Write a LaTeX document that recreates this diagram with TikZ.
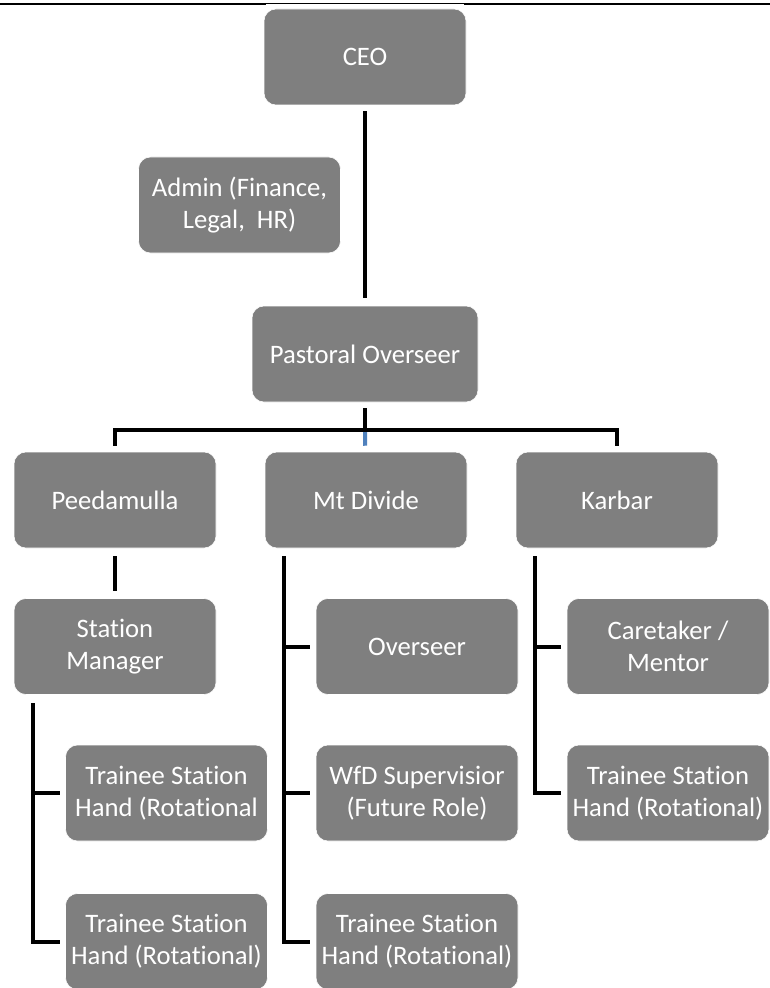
\documentclass[tikz,border=0pt]{standalone}
\usepackage{fontspec}
\setmainfont{Carlito}[Ligatures=NoCommon]
\usetikzlibrary{calc}

\definecolor{boxgray}{RGB}{127,127,127}
\definecolor{linkblue}{RGB}{79,129,189}

\begin{document}
\begin{tikzpicture}[x=0.75pt,y=0.75pt,yscale=-1,xscale=1,
  orgbox/.style={draw=white, line width=0.4pt, fill=boxgray, rounded corners=9pt,
    minimum width=151.5pt, minimum height=72pt, inner sep=1pt, align=center,
    text=white, font=\fontsize{20}{24}\selectfont},
  link/.style={draw=black, line width=3pt},
  ]
\useasboundingbox (0,0) rectangle (770,988);

%Straight Lines (page rule)
\draw [line width=2.2pt] (0,4) -- (770,4) ;
\draw [white, line width=0.9pt] (266,5.1) -- (464,5.1) ;

%Shape: Rounded Rect (top)
\node (ceo) at (365,57) [orgbox] {CEO};
\node (admin) at (239.5,205) [orgbox] {Admin (Finance,\\Legal,\ \ HR)};
\node (pastoral) at (365,354) [orgbox, minimum width=169.5pt] {Pastoral Overseer};

%Shape: Rounded Rect (stations)
\node (peed) at (115,500) [orgbox] {Peedamulla};
\node (mt) at (366,500) [orgbox] {Mt Divide};
\node (karbar) at (617,500) [orgbox] {Karbar};

%Shape: Rounded Rect (Peedamulla)
\node (sm) at (115,646.5) [orgbox] {Station\\Manager};
\node (tr1) at (166.5,793) [orgbox] {Trainee Station\\Hand (Rotational};
\node (tr2) at (166.5,941.5) [orgbox] {Trainee Station\\Hand (Rotational)};

%Shape: Rounded Rect (Mt Divide)
\node (ov) at (417,646.5) [orgbox] {Overseer};
\node (wfd) at (417,793) [orgbox] {WfD Supervisior\\(Future Role)};
\node (trm) at (417,941.5) [orgbox] {Trainee Station\\Hand (Rotational)};

%Shape: Rounded Rect (Karbar)
\node (care) at (668,646.5) [orgbox] {Caretaker /\\Mentor};
\node (trk) at (668,793) [orgbox] {Trainee Station\\Hand (Rotational)};

% spine points
\coordinate (bus) at (365,430);
\coordinate (smspine) at (33,703);
\coordinate (mtspine) at (284,556);
\coordinate (kbspine) at (535,556);

%Straight Lines
\draw [link, shorten <=4.5pt, shorten >=6pt] (ceo) -- (pastoral) ;
\draw [link, draw=linkblue, shorten >=4.5pt] (bus) -- (mt) ;
\draw [link, shorten <=4.5pt] (pastoral) -- (bus) ;
\draw [link, shorten <=4.5pt, shorten >=4.5pt] (peed) |- (bus) -| (karbar) ;
\draw [link, shorten <=6pt, shorten >=5.25pt] (peed) -- (sm) ;

%Straight Lines (side branches)
\draw [link, shorten >=3.75pt] (smspine) |- (tr1) ;
\draw [link, shorten >=3.75pt] (smspine) |- (tr2) ;
\draw [link, shorten >=4.5pt] (mtspine) |- (ov) ;
\draw [link, shorten >=4.5pt] (mtspine) |- (wfd) ;
\draw [link, shorten >=4.5pt] (mtspine) |- (trm) ;
\draw [link, shorten >=4.5pt] (kbspine) |- (care) ;
\draw [link, shorten >=4.5pt] (kbspine) |- (trk) ;

\end{tikzpicture}
\end{document}
